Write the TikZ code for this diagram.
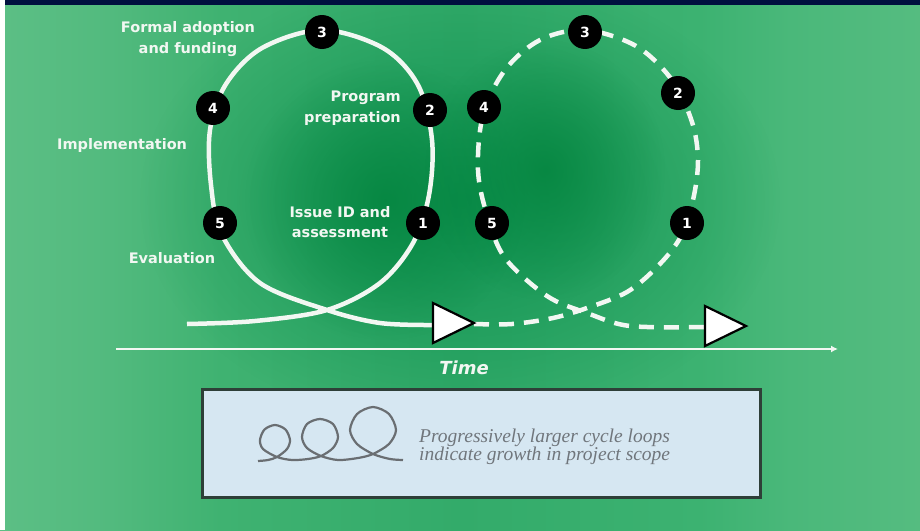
\documentclass[tikz,border=0pt]{standalone}
\usepackage{fontspec}
\newfontfamily\lblfont{DejaVu Sans}
\newfontfamily\boxfont{Liberation Serif}
\usetikzlibrary{arrows.meta,fadings}
\definecolor{bgL0}{HTML}{5CBF85}
\definecolor{bgL1}{HTML}{52BA7E}
\definecolor{bgL2}{HTML}{3FB271}
\definecolor{bgM}{HTML}{33AB6A}
\definecolor{bgR2}{HTML}{3CB271}
\definecolor{bgR1}{HTML}{4AB87A}
\definecolor{bgR0}{HTML}{55BC80}
\definecolor{bgmid}{HTML}{0F9150}
\definecolor{bgdark}{HTML}{03843E}
\definecolor{navy}{HTML}{00103F}
\definecolor{boxfill}{HTML}{D6E7F2}
\definecolor{boxedge}{HTML}{2E3F38}
\definecolor{icongrey}{HTML}{6A6E72}
\definecolor{textgrey}{HTML}{70767C}
\definecolor{linewhite}{HTML}{F2F7F2}
\pgfdeclarehorizontalshading{bgshade}{100bp}{color(0bp)=(bgL0); color(25bp)=(bgL0); color(31bp)=(bgL1); color(37bp)=(bgL2); color(50bp)=(bgM); color(63bp)=(bgR2); color(68bp)=(bgR1); color(75bp)=(bgR0); color(100bp)=(bgR0)}
\tikzfading[name=softglow, inner color=transparent!0, outer color=transparent!100]
\begin{document}
\begin{tikzpicture}[x=1pt,y=-1pt,
  numnode/.style={circle, fill=black, minimum size=34pt, inner sep=0pt, text=white,
    font=\lblfont\bfseries\fontsize{14}{14}\selectfont},
  lbl/.style={text=linewhite, inner sep=0pt,
    font=\lblfont\bfseries\fontsize{14.5}{20.5}\selectfont},
  loopline/.style={draw=linewhite, line width=4.5pt},
  dashloop/.style={loopline, dash pattern=on 15pt off 10pt},
  arrowtri/.style={fill=white, draw=black, line width=2.2pt, line join=miter},
  iconline/.style={draw=icongrey, line width=2.2pt}]
\useasboundingbox (0,0) rectangle (920,530);
% background
\shade[shading=bgshade] (0,0) rectangle (920,530);
\fill[bgmid, path fading=softglow] (460,200) ellipse [x radius=320, y radius=230];
\fill[bgdark, path fading=softglow, fill opacity=0.8] (385,200) ellipse [x radius=140, y radius=140];
\fill[bgdark, path fading=softglow, fill opacity=0.8] (545,170) ellipse [x radius=120, y radius=130];
\fill[navy] (5,0) rectangle (920,5);
\fill[white] (0,0) rectangle (5,530);
% time axis
\coordinate (t0) at (116,349);
\coordinate (t1) at (838,349);
\draw[linewhite, line width=2.5pt, -{Latex[length=7pt,width=7pt]}] (t0) -- (t1);
\node[text=linewhite, inner sep=0pt, font=\lblfont\bfseries\itshape\fontsize{18}{18}\selectfont] (time) at (464,368) {Time};
% arrow anchors
\coordinate (a1) at (433,323);
\coordinate (a2) at (705,326);
% solid loop
\draw[loopline] plot[smooth, tension=0.55] coordinates {
 (187,324) (255,321) (327,310) (380,283) (413,243) (429,195) (432,140) (418,85)
 (383,48) (322,30) (262,48) (226,84) (210,130) (211,185) (222,235) (260,283)
 (327,310) (380,323) (433,325)};
% dashed loop
\draw[dashloop] plot[smooth, tension=0.55] coordinates {
 (474,324) (512,324) (553,318) (587,308) (627,292) (657,267) (680,238) (693,200)
 (698,160) (692,122) (672,80) (636,46) (585,30) (540,40) (505,70) (483,115)
 (478,170) (487,215) (505,258) (547,296) (587,313) (630,326) (705,327)};
% arrowheads
\draw[arrowtri] (a1) ++(0,-20) -- ++(41,20) -- ++(-41,20) -- cycle;
\draw[arrowtri] (a2) ++(0,-20) -- ++(41,20) -- ++(-41,20) -- cycle;
% numbered nodes, solid loop
\node[numnode] (s1) at (423,223) {1};
\node[numnode] (s2) at (430,110) {2};
\node[numnode] (s3) at (322,32) {3};
\node[numnode] (s4) at (213,108) {4};
\node[numnode] (s5) at (220,223) {5};
% numbered nodes, dashed loop
\node[numnode] (d1) at (687,223) {1};
\node[numnode] (d2) at (678,93) {2};
\node[numnode] (d3) at (585,32) {3};
\node[numnode] (d4) at (484,107) {4};
\node[numnode] (d5) at (492,223) {5};
% labels
\node[lbl, align=center] (l3) at (188,39) {Formal adoption\\and funding};
\node[lbl, align=right, anchor=east] (l2) at (401,108) {Program\\preparation};
\node[lbl, anchor=west] (l4) at (57,145) {Implementation};
\node[lbl, align=center] (l1) at (340,222) {Issue ID and\\assessment};
\node[lbl] (l5) at (172,258) {Evaluation};
% legend box
\node[draw=boxedge, fill=boxfill, line width=2.5pt, minimum width=558pt, minimum height=108pt,
  anchor=north west, inner sep=0pt] (box) at (201,388) {};
\draw[iconline] plot[smooth, tension=0.5] coordinates {
 (258,461) (268,460) (277,457) (287,449) (290,440) (285.5,429.5) (275,425) (264.5,429.5)
 (260,440) (263,449) (277,457) (292,460) (308,459) (321,456) (333,448) (338,437)
 (333,424) (320,419) (307,424) (302,437) (307,448) (321,456) (338,460) (358,458)
 (373,454) (389,444) (396,430) (389,414) (373,407) (357,414) (350,430) (357,444)
 (373,454) (390,459) (403,460)};
\node[anchor=west, align=left, text=textgrey, inner sep=0pt,
  font=\boxfont\itshape\fontsize{19.5}{18}\selectfont] (cap) at (419,447)
  {Progressively larger cycle loops\\indicate growth in project scope};
\end{tikzpicture}
\end{document}
